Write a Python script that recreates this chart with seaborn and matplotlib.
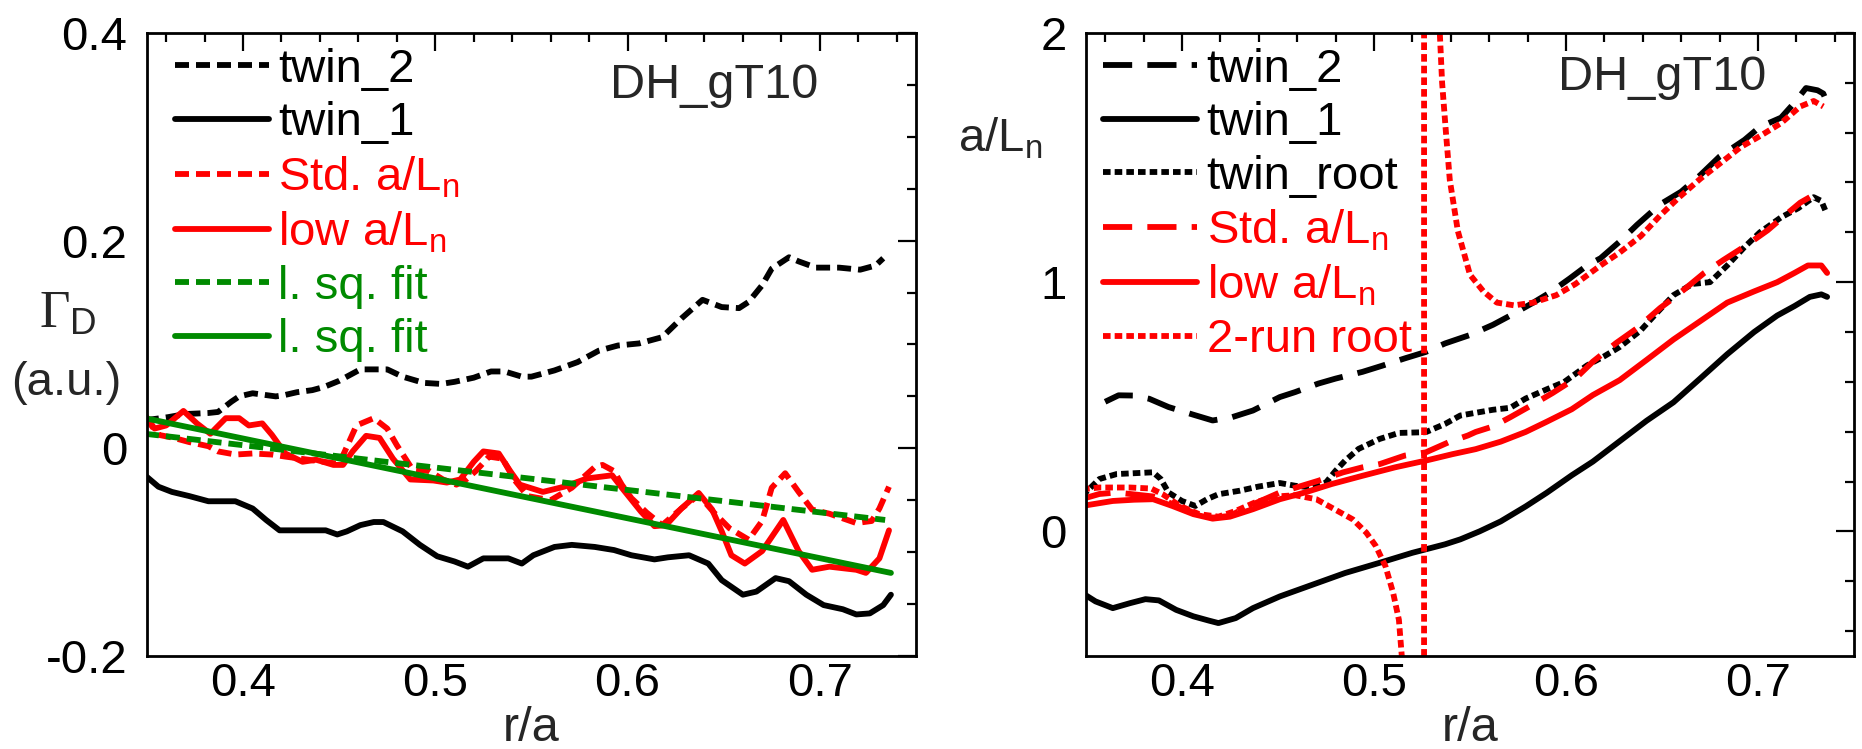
import matplotlib
matplotlib.use("Agg")
import matplotlib.pyplot as plt
from matplotlib.ticker import MultipleLocator
import seaborn as sns

# ---------------- left panel : Gamma_D (a.u.) vs r/a ----------------
left_twin2_x = [0.349, 0.361, 0.370, 0.382, 0.387, 0.394, 0.398, 0.405, 0.417, 0.421, 0.428, 0.436,
                0.442, 0.450, 0.461, 0.475, 0.483, 0.494, 0.503, 0.510, 0.520, 0.529, 0.536, 0.545,
                0.550, 0.562, 0.574, 0.585, 0.595, 0.606, 0.618, 0.628, 0.639, 0.649, 0.658, 0.663,
                0.670, 0.675, 0.684, 0.689, 0.698, 0.710, 0.721, 0.729, 0.733]
left_twin2_y = [0.027, 0.030, 0.033, 0.034, 0.035, 0.045, 0.050, 0.053, 0.050, 0.051, 0.054, 0.056,
                0.059, 0.065, 0.076, 0.076, 0.069, 0.063, 0.062, 0.064, 0.068, 0.074, 0.074, 0.069,
                0.069, 0.075, 0.083, 0.094, 0.099, 0.101, 0.107, 0.125, 0.143, 0.136, 0.135, 0.141,
                0.157, 0.173, 0.184, 0.180, 0.174, 0.174, 0.172, 0.176, 0.183]

left_twin1_x = [0.349, 0.356, 0.363, 0.372, 0.382, 0.396, 0.405, 0.412, 0.419, 0.443, 0.449, 0.454,
                0.461, 0.468, 0.473, 0.483, 0.492, 0.501, 0.510, 0.517, 0.525, 0.538, 0.545, 0.551,
                0.562, 0.571, 0.583, 0.593, 0.602, 0.614, 0.621, 0.632, 0.642, 0.649, 0.660, 0.667,
                0.677, 0.684, 0.693, 0.702, 0.712, 0.719, 0.726, 0.733, 0.737]
left_twin1_y = [-0.026, -0.037, -0.042, -0.046, -0.051, -0.051, -0.058, -0.069, -0.079, -0.079, -0.083, -0.080,
                -0.074, -0.071, -0.071, -0.080, -0.093, -0.104, -0.109, -0.114, -0.106, -0.106, -0.111, -0.103,
                -0.095, -0.093, -0.095, -0.098, -0.103, -0.107, -0.105, -0.103, -0.111, -0.127, -0.141, -0.138,
                -0.125, -0.128, -0.141, -0.151, -0.155, -0.160, -0.159, -0.151, -0.141]

left_std_x = [0.349, 0.356, 0.364, 0.372, 0.382, 0.387, 0.396, 0.405, 0.415, 0.422, 0.438, 0.450,
              0.459, 0.468, 0.475, 0.480, 0.488, 0.497, 0.504, 0.511, 0.516, 0.521, 0.528, 0.535,
              0.541, 0.548, 0.560, 0.571, 0.583, 0.587, 0.593, 0.597, 0.602, 0.610, 0.618, 0.628,
              0.637, 0.645, 0.653, 0.663, 0.670, 0.675, 0.682, 0.689, 0.696, 0.705, 0.719, 0.727,
              0.731, 0.736]
left_std_y = [0.030, 0.013, 0.010, 0.006, 0.002, -0.003, -0.006, -0.005, -0.006, -0.008, -0.012, -0.015,
              0.022, 0.029, 0.019, 0.003, -0.020, -0.022, -0.030, -0.035, -0.030, -0.022, -0.008, -0.010,
              -0.030, -0.046, -0.050, -0.038, -0.018, -0.016, -0.022, -0.035, -0.048, -0.062, -0.074, -0.058,
              -0.045, -0.062, -0.077, -0.088, -0.070, -0.038, -0.024, -0.042, -0.059, -0.063, -0.072, -0.070,
              -0.058, -0.037]

left_low_x = [0.349, 0.354, 0.360, 0.369, 0.376, 0.383, 0.391, 0.398, 0.403, 0.410, 0.415, 0.422,
              0.431, 0.438, 0.447, 0.452, 0.457, 0.464, 0.471, 0.478, 0.487, 0.499, 0.506, 0.513,
              0.520, 0.525, 0.533, 0.539, 0.544, 0.556, 0.567, 0.579, 0.592, 0.597, 0.607, 0.614,
              0.620, 0.628, 0.637, 0.644, 0.649, 0.654, 0.661, 0.670, 0.681, 0.689, 0.696, 0.705,
              0.719, 0.724, 0.731, 0.736]
left_low_y = [0.032, 0.019, 0.022, 0.036, 0.024, 0.014, 0.029, 0.029, 0.022, 0.024, 0.013, -0.005,
              -0.013, -0.011, -0.016, -0.016, -0.003, 0.012, 0.010, -0.010, -0.030, -0.031, -0.033, -0.030,
              -0.013, -0.003, -0.005, -0.022, -0.035, -0.042, -0.037, -0.029, -0.026, -0.038, -0.061, -0.075,
              -0.074, -0.058, -0.043, -0.059, -0.080, -0.103, -0.111, -0.099, -0.069, -0.099, -0.117, -0.114,
              -0.117, -0.120, -0.106, -0.079]

fit_std_x = [0.349, 0.734]
fit_std_y = [0.014, -0.069]
fit_low_x = [0.349, 0.737]
fit_low_y = [0.029, -0.120]

# ---------------- right panel : a/L_n vs r/a ----------------
right_twin2_x = [0.360, 0.367, 0.375, 0.383, 0.393, 0.406, 0.416, 0.426, 0.437, 0.451, 0.459, 0.471,
                 0.480, 0.494, 0.504, 0.516, 0.527, 0.537, 0.545, 0.550, 0.562, 0.571, 0.583, 0.592,
                 0.602, 0.611, 0.618, 0.628, 0.637, 0.649, 0.660, 0.670, 0.680, 0.693, 0.701, 0.712,
                 0.719, 0.725, 0.731, 0.734, 0.736]
right_twin2_y = [0.520, 0.546, 0.545, 0.532, 0.499, 0.468, 0.445, 0.458, 0.485, 0.539, 0.559, 0.593,
                 0.613, 0.640, 0.664, 0.694, 0.720, 0.754, 0.775, 0.788, 0.829, 0.866, 0.918, 0.960,
                 1.015, 1.067, 1.096, 1.163, 1.230, 1.312, 1.363, 1.430, 1.504, 1.571, 1.623, 1.660,
                 1.720, 1.779, 1.770, 1.757, 1.720]

right_twin1_x = [0.348, 0.355, 0.364, 0.373, 0.381, 0.388, 0.397, 0.406, 0.414, 0.419, 0.428, 0.437,
                 0.451, 0.468, 0.485, 0.503, 0.520, 0.537, 0.545, 0.555, 0.566, 0.579, 0.590, 0.603,
                 0.614, 0.628, 0.642, 0.656, 0.670, 0.684, 0.698, 0.710, 0.719, 0.727, 0.733, 0.736]
right_twin1_y = [-0.247, -0.281, -0.308, -0.288, -0.272, -0.277, -0.315, -0.341, -0.358, -0.368, -0.348, -0.308,
                 -0.261, -0.214, -0.167, -0.126, -0.086, -0.052, -0.032, 0.000, 0.040, 0.100, 0.155, 0.225,
                 0.280, 0.362, 0.444, 0.518, 0.614, 0.711, 0.800, 0.866, 0.904, 0.941, 0.951, 0.941]

right_root_x = [0.348, 0.357, 0.366, 0.385, 0.389, 0.393, 0.400, 0.407, 0.413, 0.419, 0.430, 0.440,
                0.451, 0.459, 0.468, 0.475, 0.480, 0.485, 0.492, 0.503, 0.513, 0.527, 0.537, 0.545,
                0.562, 0.571, 0.579, 0.590, 0.599, 0.611, 0.620, 0.628, 0.639, 0.646, 0.656, 0.666,
                0.675, 0.684, 0.693, 0.701, 0.712, 0.721, 0.729, 0.733, 0.735]
right_root_y = [0.142, 0.210, 0.230, 0.237, 0.210, 0.156, 0.122, 0.102, 0.129, 0.149, 0.163, 0.180,
                0.194, 0.183, 0.176, 0.196, 0.243, 0.284, 0.331, 0.371, 0.395, 0.398, 0.431, 0.465,
                0.488, 0.496, 0.533, 0.570, 0.599, 0.666, 0.703, 0.740, 0.807, 0.866, 0.948, 0.993,
                1.000, 1.067, 1.141, 1.200, 1.260, 1.297, 1.341, 1.326, 1.289]

right_std_x = [0.348, 0.357, 0.366, 0.385, 0.395, 0.406, 0.416, 0.425, 0.433, 0.451, 0.471, 0.484,
               0.494, 0.503, 0.516, 0.527, 0.539, 0.549, 0.553, 0.562, 0.571, 0.583, 0.593, 0.605,
               0.614, 0.626, 0.637, 0.649, 0.658, 0.672, 0.682, 0.694, 0.705, 0.715, 0.722, 0.727]
right_std_y = [0.130, 0.150, 0.156, 0.140, 0.110, 0.075, 0.055, 0.062, 0.095, 0.156, 0.203, 0.237,
               0.257, 0.270, 0.304, 0.317, 0.358, 0.385, 0.399, 0.421, 0.458, 0.510, 0.555, 0.614,
               0.681, 0.755, 0.815, 0.896, 0.948, 1.037, 1.089, 1.148, 1.208, 1.274, 1.319, 1.341]

right_low_x = [0.348, 0.364, 0.375, 0.385, 0.395, 0.406, 0.416, 0.425, 0.437, 0.451, 0.464, 0.478,
               0.494, 0.511, 0.527, 0.541, 0.553, 0.566, 0.579, 0.590, 0.603, 0.614, 0.628, 0.642,
               0.656, 0.670, 0.684, 0.698, 0.710, 0.719, 0.726, 0.733, 0.736]
right_low_y = [0.102, 0.122, 0.127, 0.129, 0.102, 0.069, 0.051, 0.059, 0.089, 0.129, 0.156, 0.190,
               0.223, 0.257, 0.284, 0.310, 0.330, 0.360, 0.399, 0.440, 0.490, 0.547, 0.607, 0.688,
               0.770, 0.844, 0.918, 0.963, 1.000, 1.037, 1.067, 1.067, 1.037]

# two-run root: diverges at r/a ~ 0.526
run2_x = [0.348, 0.357, 0.373, 0.384, 0.390, 0.399, 0.409, 0.419, 0.428, 0.438, 0.449, 0.459,
          0.470, 0.478, 0.489, 0.496, 0.501, 0.506, 0.510, 0.513, 0.5145, 0.518, 0.522, 0.526,
          0.5262, 0.530, 0.534, 0.5355, 0.5375, 0.5395, 0.5437, 0.550, 0.557, 0.564, 0.573, 0.583,
          0.595, 0.605, 0.618, 0.628, 0.639, 0.649, 0.659, 0.670, 0.680, 0.691, 0.701, 0.712,
          0.722, 0.729, 0.734]
run2_y = [0.169, 0.176, 0.176, 0.172, 0.149, 0.102, 0.069, 0.059, 0.082, 0.116, 0.140, 0.145,
          0.129, 0.095, 0.048, -0.005, -0.059, -0.140, -0.247, -0.355, -0.50, -1.0, -2.5, -40.0,
          40.0, 4.0, 2.05, 1.80, 1.60, 1.41, 1.205, 1.03, 0.963, 0.918, 0.907, 0.918,
          0.948, 0.993, 1.067, 1.119, 1.185, 1.267, 1.341, 1.415, 1.475, 1.542, 1.586, 1.638,
          1.705, 1.727, 1.705]

left_xticks = [0.4, 0.5, 0.6, 0.7]
left_xticklabels = ["0.4", "0.5", "0.6", "0.7"]
left_yticks = [-0.2, 0.0, 0.2, 0.4]
left_yticklabels = ["-0.2", "0", "0.2", "0.4"]
right_yticks = [0, 1, 2]
right_yticklabels = ["0", "1", "2"]

left_labels = ["twin_2", "twin_1", "Std. a/L$_n$", "low a/L$_n$", "l. sq. fit", "l. sq. fit"]
right_labels = ["twin_2", "twin_1", "twin_root", "Std. a/L$_n$", "low a/L$_n$", "2-run root"]

RED = "#ff0000"
GREEN = "#008a00"
LW = 4.2
SHORT = (0, (2.4, 1.2))
LONG = (0, (5.0, 2.6))
DOT = (0, (1.3, 0.7))
FS = 34

sns.set_theme(style="white")
plt.rcParams["font.family"] = ["Liberation Sans", "DejaVu Sans"]
plt.rcParams["mathtext.fontset"] = "custom"
plt.rcParams["mathtext.sf"] = "Liberation Sans"
plt.rcParams["mathtext.rm"] = "Liberation Sans"
plt.rcParams["mathtext.default"] = "regular"
plt.rcParams["axes.linewidth"] = 2.0


def curve(ax, x, y, color, ls):
    sns.lineplot(x=x, y=y, ax=ax, color=color, linestyle=ls, linewidth=LW,
                 estimator=None, errorbar=None, sort=False, legend=False)


def style_axes(ax):
    ax.set_xlim(0.35, 0.75)
    ax.set_xticks(left_xticks, left_xticklabels)
    ax.xaxis.set_minor_locator(MultipleLocator(0.02))
    ax.tick_params(which="both", direction="in", top=True, right=True, width=1.6, colors="black")
    ax.tick_params(which="major", length=13)
    ax.tick_params(which="minor", length=6.5)
    ax.tick_params(axis="x", labelsize=FS, pad=4)
    ax.tick_params(axis="y", labelsize=FS, pad=14)
    for s in ax.spines.values():
        s.set_color("black")
    ax.set_xlabel("r/a", fontsize=FS + 1, labelpad=0)
    ax.set_ylabel("")


def add_legend(ax, labels, x0):
    ax.legend(ax.lines[:6], labels, loc="upper left", bbox_to_anchor=(x0, 0.976),
              frameon=False, fontsize=FS, handlelength=2.0, handletextpad=0.2,
              labelspacing=0.2, borderpad=0, borderaxespad=0, labelcolor="linecolor")


fig = plt.figure(figsize=(18.62, 7.49), dpi=100)
axL = fig.add_axes([0.0789, 0.1242, 0.4130, 0.8318])
axR = fig.add_axes([0.5832, 0.1242, 0.4125, 0.8318])

# left panel
curve(axL, left_twin2_x, left_twin2_y, "black", SHORT)
curve(axL, left_twin1_x, left_twin1_y, "black", "-")
curve(axL, left_std_x, left_std_y, RED, SHORT)
curve(axL, left_low_x, left_low_y, RED, "-")
curve(axL, fit_std_x, fit_std_y, GREEN, SHORT)
curve(axL, fit_low_x, fit_low_y, GREEN, "-")
style_axes(axL)
axL.set_ylim(-0.2, 0.4)
axL.set_yticks(left_yticks, left_yticklabels)
axL.yaxis.set_minor_locator(MultipleLocator(0.05))
add_legend(axL, left_labels, 0.036)
axL.text(0.737, 0.915, "DH_gT10", transform=axL.transAxes, ha="center", va="center", fontsize=FS + 1)
axL.text(-0.103, 0.548, r"$\Gamma_{\mathsf{D}}$", transform=axL.transAxes, ha="center", va="center",
         fontsize=38, family="Liberation Serif")
axL.text(-0.105, 0.438, "(a.u.)", transform=axL.transAxes, ha="center", va="center", fontsize=FS)

# right panel
curve(axR, right_twin2_x, right_twin2_y, "black", LONG)
curve(axR, right_twin1_x, right_twin1_y, "black", "-")
curve(axR, right_root_x, right_root_y, "black", DOT)
curve(axR, right_std_x, right_std_y, RED, LONG)
curve(axR, right_low_x, right_low_y, RED, "-")
curve(axR, run2_x, run2_y, RED, DOT)
style_axes(axR)
axR.set_ylim(-0.5, 2.0)
axR.set_yticks(right_yticks, right_yticklabels)
axR.yaxis.set_minor_locator(MultipleLocator(0.2))
add_legend(axR, right_labels, 0.022)
axR.text(0.75, 0.928, "DH_gT10", transform=axR.transAxes, ha="center", va="center", fontsize=FS + 1)
axR.text(-0.112, 0.83, "a/L$_n$", transform=axR.transAxes, ha="center", va="center", fontsize=FS)

fig.savefig("out.png", dpi=100)
